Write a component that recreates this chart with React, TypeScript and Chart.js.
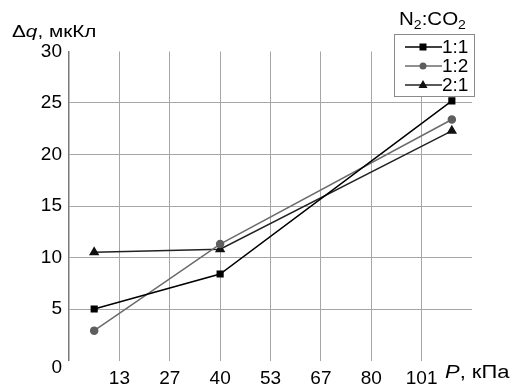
import React, { useEffect, useRef } from "react";
import { Chart, registerables } from "chart.js";

Chart.register(...registerables);

const xTickLabels = ["", "13", "27", "40", "53", "67", "80", "101", ""];
const xPositions = [0.5, 3, 7.6];
const series11 = [5.0, 8.4, 25.2];
const series12 = [2.9, 11.3, 23.4];
const series21 = [10.5, 10.8, 22.3];
const seriesNames = ["1:1", "1:2", "2:1"];
const seriesColors = ["#000000", "#6b6b6b", "#222222"];
const markerColors = ["#000000", "#5e5e5e", "#111111"];
const markerStyles = ["rect", "circle", "triangle"];
const markerRadius = [4, 3.5, 4.5];

const FONT = "'Liberation Sans', Arial, sans-serif";

function stretchText(ctx: CanvasRenderingContext2D, parts: [string, string, number][], x0: number, y: number, sx: number) {
  ctx.save();
  ctx.translate(x0, y);
  ctx.scale(sx, 1);
  let x = 0;
  for (const [t, font, dy] of parts) {
    ctx.font = font;
    ctx.fillText(t, x, dy);
    x += ctx.measureText(t).width;
  }
  ctx.restore();
}

const overlayPlugin = {
  id: "overlay",
  afterDraw(chart: any) {
    const ctx = chart.ctx as CanvasRenderingContext2D;
    ctx.save();
    ctx.fillStyle = "#000";
    ctx.textBaseline = "alphabetic";
    ctx.textAlign = "left";
    // zero label of y axis (sits lower, level with x labels)
    ctx.font = `19px ${FONT}`;
    ctx.textAlign = "right";
    ctx.textBaseline = "middle";
    ctx.fillText("0", chart.chartArea.left - 7, chart.scales.y.getPixelForValue(0) + 7);
    ctx.textAlign = "left";
    ctx.textBaseline = "alphabetic";
    // Y title
    stretchText(
      ctx,
      [
        ["Δ", `17px ${FONT}`, 0],
        ["q", `italic 17px ${FONT}`, 0],
        [", мкКл", `17px ${FONT}`, 0],
      ],
      12,
      37,
      1.22
    );
    // X title
    stretchText(
      ctx,
      [
        ["P", `italic 18px ${FONT}`, 0],
        [", кПа", `18px ${FONT}`, 0],
      ],
      445,
      378,
      1.22
    );
    // Legend title N2:CO2
    stretchText(
      ctx,
      [
        ["N", `19px ${FONT}`, 0],
        ["2", `13px ${FONT}`, 4],
        [":CO", `19px ${FONT}`, 0],
        ["2", `13px ${FONT}`, 4],
      ],
      399,
      25,
      1.08
    );
    // Legend box
    ctx.fillStyle = "#fff";
    ctx.fillRect(394, 34, 80, 62);
    ctx.strokeStyle = "#8a8a8a";
    ctx.lineWidth = 1;
    ctx.strokeRect(394.5, 34.5, 80, 62);
    const rows = [47, 66, 85];
    for (let i = 0; i < 3; i++) {
      const y = rows[i];
      ctx.strokeStyle = seriesColors[i];
      ctx.lineWidth = 1.5;
      ctx.beginPath();
      ctx.moveTo(405, y);
      ctx.lineTo(442, y);
      ctx.stroke();
      ctx.fillStyle = markerColors[i];
      const mx = 423;
      if (markerStyles[i] === "rect") {
        ctx.fillRect(mx - 3.5, y - 3.5, 7, 7);
      } else if (markerStyles[i] === "circle") {
        ctx.beginPath();
        ctx.arc(mx, y, 3.5, 0, Math.PI * 2);
        ctx.fill();
      } else {
        ctx.beginPath();
        ctx.moveTo(mx, y - 5);
        ctx.lineTo(mx + 4.5, y + 3);
        ctx.lineTo(mx - 4.5, y + 3);
        ctx.closePath();
        ctx.fill();
      }
      ctx.fillStyle = "#000";
      ctx.font = `19px ${FONT}`;
      ctx.textBaseline = "middle";
      ctx.fillText(seriesNames[i], 442, y + 1);
      ctx.textBaseline = "alphabetic";
    }
    ctx.restore();
  },
};

export default function App() {
  const ref = useRef<HTMLCanvasElement>(null);
  useEffect(() => {
    if (!ref.current) return;
    const all = [series11, series12, series21];
    const chart = new Chart(ref.current, {
      type: "line",
      data: {
        datasets: all.map((vals, i) => ({
          label: seriesNames[i],
          data: vals.map((v, j) => ({ x: xPositions[j], y: v })),
          borderColor: seriesColors[i],
          backgroundColor: markerColors[i],
          pointBackgroundColor: markerColors[i],
          pointBorderColor: markerColors[i],
          pointStyle: markerStyles[i] as any,
          pointRadius: markerRadius[i],
          borderWidth: 1.5,
          tension: 0,
        })),
      },
      options: {
        responsive: false,
        animation: false,
        layout: { padding: { left: 0, right: 43, top: 51.5, bottom: 0 } },
        plugins: { legend: { display: false }, tooltip: { enabled: false } },
        scales: {
          x: {
            type: "linear",
            min: 0,
            max: 8,
            afterFit: (s: any) => {
              s.height = 29.5;
            },
            afterBuildTicks: (s: any) => {
              s.ticks = xTickLabels.map((_, i) => ({ value: i }));
            },
            ticks: {
              autoSkip: false,
              maxRotation: 0,
              padding: 7,
              color: "#000",
              font: { family: FONT, size: 19 },
              callback: (v: any) => xTickLabels[Math.round(v)] ?? "",
            },
            grid: {
              drawTicks: false,
              color: (c: any) =>
                c.tick && (c.tick.value === 0 || c.tick.value === 8) ? "rgba(0,0,0,0)" : "#a6a6a6",
              lineWidth: 1,
            },
            border: { display: false },
          },
          y: {
            min: 0,
            max: 30,
            afterFit: (s: any) => {
              s.width = 69;
            },
            ticks: {
              stepSize: 5,
              padding: 7,
              color: "#000",
              font: { family: FONT, size: 19 },
              callback: (v: any) => (v === 0 ? "" : String(v)),
            },
            grid: {
              drawTicks: false,
              color: (c: any) =>
                c.tick && (c.tick.value === 0 || c.tick.value === 30) ? "rgba(0,0,0,0)" : "#a6a6a6",
              lineWidth: 1,
            },
            border: { display: true, color: "#7a7a7a", width: 1.5 },
          },
        },
      },
      plugins: [overlayPlugin],
    });
    return () => chart.destroy();
  }, []);
  return (
    <div style={{ position: "absolute", left: 0, top: 0, width: 515, height: 390, background: "#fff" }}>
      <canvas ref={ref} width={515} height={390} style={{ width: 515, height: 390 }} />
    </div>
  );
}
